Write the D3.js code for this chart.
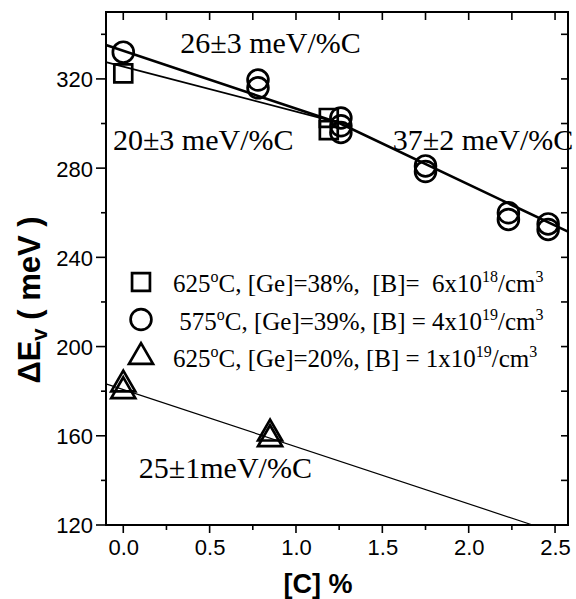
<!DOCTYPE html>
<html>
<head>
<meta charset="utf-8">
<script src="https://cdnjs.cloudflare.com/ajax/libs/d3/7.8.5/d3.min.js"></script>
<style>
  body { margin: 0; background: #fff; }
  svg { display: block; }
</style>
</head>
<body>
<script>
// squares: 625C, [Ge]=38%
var squareX = [0, 1.19, 1.19];
var squareY = [322.5, 302.5, 297];
// circles: 575C, [Ge]=39%
var circleX = [0, 0.78, 0.78, 1.26, 1.26, 1.26, 1.75, 1.75, 2.23, 2.23, 2.46, 2.46];
var circleY = [332, 319.5, 316, 302.5, 299, 296, 281, 278.5, 260, 257, 255, 252.5];
// triangles: 625C, [Ge]=20%
var triX = [0, 0, 0.85, 0.85];
var triY = [183, 180, 161, 158.5];

// fitted lines (end points)
var fitUpper = [[-0.1, 335.2], [1.25, 300.2], [2.575, 251.5]];
var fitLower = [[-0.1, 327.5], [1.25, 300.3]];
var fitTri = [[-0.1, 183.3], [2.37, 120]];

var xTicks = [0, 0.5, 1.0, 1.5, 2.0, 2.5];
var yTicks = [120, 160, 200, 240, 280, 320];

var notes = [
  {text: "26\u00b13 meV/%C", x: 0.33, y: 331.6},
  {text: "20\u00b13 meV/%C", x: -0.06, y: 288.3},
  {text: "37\u00b12 meV/%C", x: 1.56, y: 288.3},
  {text: "25\u00b11meV/%C", x: 0.09, y: 141}
];

var legendRows = [
  {mark: "square", parts: [["625"], ["o", 1], ["C, [Ge]=38%,  [B]=  6x10"], ["18", 1], ["/cm"], ["3", 1]]},
  {mark: "circle", parts: [[" 575"], ["o", 1], ["C, [Ge]=39%, [B] = 4x10"], ["19", 1], ["/cm"], ["3", 1]]},
  {mark: "triangle", parts: [["625"], ["o", 1], ["C, [Ge]=20%, [B] = 1x10"], ["19", 1], ["/cm"], ["3", 1]]}
];

var W = 576, H = 599;
var svg = d3.select("body").append("svg").attr("width", W).attr("height", H);

var x = d3.scaleLinear().domain([-0.1, 2.575]).range([106, 568]);
var y = d3.scaleLinear().domain([120, 350]).range([525, 12]);

var sans = "'Liberation Sans', Arial, sans-serif";
var serif = "'Liberation Serif', 'Times New Roman', serif";

// bottom axis: labels from d3 axis, ticks drawn outward
var bottom = svg.append("g").attr("transform", "translate(0," + y(120) + ")")
  .call(d3.axisBottom(x).tickValues(xTicks).tickSize(0).tickPadding(23)
    .tickFormat(d3.format(".1f")));
bottom.select(".domain").remove();
bottom.selectAll("text").attr("fill", "#000").attr("font-family", sans).attr("font-size", 22)
  .attr("dy", "0.71em").attr("y", 14);
d3.range(0, 2.51, 0.25).forEach(function(v, i) {
  bottom.append("line").attr("x1", x(v)).attr("x2", x(v)).attr("y1", 0)
    .attr("y2", i % 2 == 0 ? 8 : 5).attr("stroke", "#000").attr("stroke-width", 1.6);
  svg.append("line").attr("x1", x(v)).attr("x2", x(v)).attr("y1", 12).attr("y2", 20)
    .attr("stroke", "#000").attr("stroke-width", 1.6);
});

// left axis
var left = svg.append("g").attr("transform", "translate(106,0)")
  .call(d3.axisLeft(y).tickValues(yTicks).tickSize(0).tickPadding(13));
left.select(".domain").remove();
left.selectAll("text").attr("fill", "#000").attr("font-family", sans).attr("font-size", 22)
  .attr("dy", "0.36em");
d3.range(120, 341, 20).forEach(function(v) {
  var major = v % 40 == 0;
  svg.append("line").attr("x1", 106).attr("x2", major ? 96 : 101)
    .attr("y1", y(v)).attr("y2", y(v)).attr("stroke", "#000").attr("stroke-width", 1.6);
  svg.append("line").attr("x1", 568).attr("x2", 561)
    .attr("y1", y(v)).attr("y2", y(v)).attr("stroke", "#000").attr("stroke-width", 1.6);
});

// frame
svg.append("rect").attr("x", 106).attr("y", 12).attr("width", 462).attr("height", 513)
  .attr("fill", "none").attr("stroke", "#000").attr("stroke-width", 2);

// axis titles
svg.append("text").attr("x", 318).attr("y", 593).attr("text-anchor", "middle")
  .attr("font-family", sans).attr("font-weight", "bold").attr("font-size", 27)
  .text("[C] %");
var yl = svg.append("text").attr("transform", "translate(40,300) rotate(-90)")
  .attr("text-anchor", "middle").attr("font-family", sans).attr("font-weight", "bold").attr("font-size", 31);
yl.append("tspan").text("\u0394E");
yl.append("tspan").attr("dy", 7).attr("font-size", 22).text("v");
yl.append("tspan").attr("dy", -7).text(" ( meV )");

// fit lines
var line = d3.line().x(function(d) { return x(d[0]); }).y(function(d) { return y(d[1]); });
svg.append("path").attr("d", line(fitUpper)).attr("fill", "none").attr("stroke", "#000").attr("stroke-width", 2.6);
svg.append("path").attr("d", line(fitLower)).attr("fill", "none").attr("stroke", "#000").attr("stroke-width", 1.7);
svg.append("path").attr("d", line(fitTri)).attr("fill", "none").attr("stroke", "#000").attr("stroke-width", 1.2);

// markers
var sq = d3.symbol().type(d3.symbolSquare).size(320);
var ci = d3.symbol().type(d3.symbolCircle).size(340);
var tr = d3.symbol().type(d3.symbolTriangle).size(250);
function marks(xs, ys, sym) {
  svg.append("g").selectAll("path").data(xs).enter().append("path")
    .attr("d", sym)
    .attr("transform", function(d, i) { return "translate(" + x(d) + "," + y(ys[i]) + ")"; })
    .attr("fill", "none").attr("stroke", "#000").attr("stroke-width", 2.7);
}
marks(squareX, squareY, sq);
marks(circleX, circleY, ci);
marks(triX, triY, tr);

// slope notes
notes.forEach(function(n) {
  svg.append("text").attr("x", x(n.x)).attr("y", y(n.y))
    .attr("font-family", serif).attr("font-size", 30).text(n.text);
});

// legend
var syms = {square: sq, circle: ci, triangle: tr};
legendRows.forEach(function(r, i) {
  var cy = 282 + i * 37.5;
  svg.append("path").attr("d", syms[r.mark])
    .attr("transform", "translate(141," + cy + ")")
    .attr("fill", "none").attr("stroke", "#000").attr("stroke-width", 2.7);
  var t = svg.append("text").attr("x", 173).attr("y", cy + 10)
    .attr("font-family", serif).attr("font-size", 25)
    .style("white-space", "pre");
  var cur = 0;
  r.parts.forEach(function(p) {
    var want = p[1] ? -10 : 0;
    var s = t.append("tspan").attr("dy", want - cur).text(p[0]);
    if (p[1]) s.attr("font-size", 16);
    cur = want;
  });
});
</script>
</body>
</html>
